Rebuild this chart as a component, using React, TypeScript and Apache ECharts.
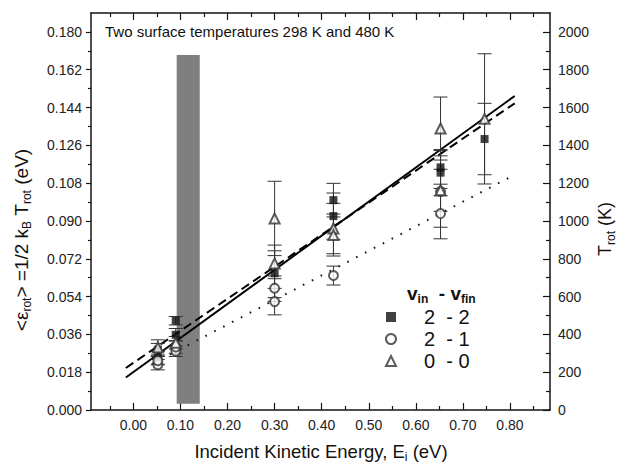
import React, { useEffect, useRef } from "react";
import * as echarts from "echarts";

// ---- axis ticks ----
const X_MAJOR = [0, 0.1, 0.2, 0.3, 0.4, 0.5, 0.6, 0.7, 0.8];
const X_MINOR = [-0.05, 0.05, 0.15, 0.25, 0.35, 0.45, 0.55, 0.65, 0.75, 0.85];
const Y_MAJOR = [0, 0.018, 0.036, 0.054, 0.072, 0.09, 0.108, 0.126, 0.144, 0.162, 0.18];
const Y_MINOR = [0.009, 0.027, 0.045, 0.063, 0.081, 0.099, 0.117, 0.135, 0.153, 0.171];
const K_MAJOR = [0, 200, 400, 600, 800, 1000, 1200, 1400, 1600, 1800, 2000];
const K_MINOR = [100, 300, 500, 700, 900, 1100, 1300, 1500, 1700, 1900];
const X_MIN = -0.09;
const X_MAX = 0.885;
const Y_MAX = 0.189;
const K_MAX = 2100;

// ---- data: v 2-2 (filled squares) ----
const E_22 = [0.052, 0.052, 0.09, 0.09, 0.3, 0.425, 0.425, 0.6525, 0.6525, 0.746];
const EPS_22 = [0.0287, 0.0248, 0.0425, 0.0358, 0.0651, 0.0999, 0.0923, 0.1155, 0.113, 0.129];
const ERR_22 = [0.003, 0.003, 0.002, 0.003, 0.0134, 0.008, 0.011, 0.008, 0.011, 0.017];

// ---- data: v 2-1 (open circles) ----
const E_21 = [0.052, 0.052, 0.09, 0.09, 0.3, 0.3, 0.425, 0.6525, 0.6525];
const EPS_21 = [0.0216, 0.0235, 0.028, 0.03, 0.058, 0.0516, 0.064, 0.0935, 0.104];
const ERR_21 = [0.0025, 0.002, 0.0025, 0.003, 0.0045, 0.0063, 0.0045, 0.012, 0.017];

// ---- data: v 0-0 (open triangles) ----
const E_00 = [0.052, 0.09, 0.3, 0.3, 0.425, 0.425, 0.6525, 0.6525, 0.746];
const EPS_00 = [0.0298, 0.032, 0.0912, 0.0698, 0.0864, 0.0833, 0.134, 0.1046, 0.1386];
const ERR_00 = [0.0036, 0.003, 0.0177, 0.006, 0.012, 0.01, 0.015, 0.01, 0.031];

// ---- fit lines ----
const SOLID_X = [-0.016, 0.81];
const SOLID_Y = [0.0155, 0.1495];
const DASH_X = [-0.016, 0.81];
const DASH_Y = [0.02, 0.146];
const DOT_X = [0.04, 0.81];
const DOT_Y = [0.022, 0.112];

// ---- shaded band [x0, y0, x1, y1] ----
const BAND = [0.092, 0.003, 0.141, 0.169];

const SERIES_NAMES = ["2  - 2", "2  - 1", "0  - 0"];
const TITLE = "Two surface temperatures 298 K and 480 K";

const FONT = "'Liberation Sans', Arial, Helvetica, sans-serif";
const INK = "#151515";

function pts(xs: number[], ys: number[]) {
  return xs.map((x, i) => [x, ys[i]]);
}
function errs(xs: number[], ys: number[], es: number[]) {
  return xs.map((x, i) => [x, ys[i] - es[i], ys[i] + es[i]]);
}

function errorBarSeries(data: number[][]) {
  return {
    type: "custom",
    xAxisIndex: 0,
    yAxisIndex: 0,
    z: 3,
    silent: true,
    data,
    encode: { x: 0, y: [1, 2] },
    renderItem: (_p: any, api: any) => {
      const x = api.value(0);
      const lo = api.coord([x, api.value(1)]);
      const hi = api.coord([x, api.value(2)]);
      const w = 7;
      const st = { stroke: "#333", lineWidth: 1 };
      return {
        type: "group",
        children: [
          { type: "line", shape: { x1: lo[0], y1: lo[1], x2: hi[0], y2: hi[1] }, style: st },
          { type: "line", shape: { x1: lo[0] - w, y1: lo[1], x2: lo[0] + w, y2: lo[1] }, style: st },
          { type: "line", shape: { x1: hi[0] - w, y1: hi[1], x2: hi[0] + w, y2: hi[1] }, style: st },
        ],
      };
    },
  };
}

function axis(showLine: boolean, extra: any) {
  return {
    type: "value",
    splitLine: { show: false },
    axisLine: { show: showLine, onZero: false, lineStyle: { color: INK, width: 1.5 } },
    ...extra,
  };
}

export default function App() {
  const ref = useRef<HTMLDivElement>(null);

  useEffect(() => {
    if (!ref.current) return;
    const chart = echarts.init(ref.current, null, { renderer: "svg" });

    const tickStyle = { color: INK, width: 1.2 };
    const labelStyle = { fontFamily: FONT, fontSize: 14, color: "#222" };

    const xMajor = (pos: string, labels: boolean) =>
      axis(true, {
        position: pos,
        min: X_MIN,
        max: X_MAX,
        axisTick: { show: true, inside: true, length: 7, customValues: X_MAJOR, lineStyle: tickStyle },
        axisLabel: labels
          ? { show: true, margin: 8, customValues: X_MAJOR, formatter: (v: number) => v.toFixed(2), ...labelStyle }
          : { show: false },
      });
    const xMinor = (pos: string) =>
      axis(false, {
        position: pos,
        min: X_MIN,
        max: X_MAX,
        axisTick: { show: true, inside: true, length: 4, customValues: X_MINOR, lineStyle: tickStyle },
        axisLabel: { show: false },
      });

    const sub = { fontFamily: FONT, fontSize: 12, fill: "#111", verticalAlign: "bottom", padding: [11, 0, 0, 0] };

    const option: any = {
      animation: false,
      backgroundColor: "#ffffff",
      grid: { left: 91, right: 76, top: 13, bottom: 54, containLabel: false, outerBoundsMode: "none" },
      xAxis: [xMajor("bottom", true), xMinor("bottom"), xMajor("top", false), xMinor("top")],
      yAxis: [
        axis(true, {
          position: "left",
          min: 0,
          max: Y_MAX,
          axisTick: { show: true, inside: false, length: 5, customValues: Y_MAJOR, lineStyle: tickStyle },
          axisLabel: { show: true, margin: 9, customValues: Y_MAJOR, formatter: (v: number) => v.toFixed(3), ...labelStyle },
        }),
        axis(false, {
          position: "left",
          min: 0,
          max: Y_MAX,
          axisTick: { show: true, inside: false, length: 3, customValues: Y_MINOR, lineStyle: tickStyle },
          axisLabel: { show: false },
        }),
        axis(true, {
          position: "right",
          min: 0,
          max: K_MAX,
          axisTick: { show: true, inside: true, length: 7, customValues: K_MAJOR, lineStyle: tickStyle },
          axisLabel: { show: true, margin: 8, customValues: K_MAJOR, formatter: (v: number) => String(v), ...labelStyle },
        }),
        axis(false, {
          position: "right",
          min: 0,
          max: K_MAX,
          axisTick: { show: true, inside: true, length: 4, customValues: K_MINOR, lineStyle: tickStyle },
          axisLabel: { show: false },
        }),
      ],
      legend: {
        data: SERIES_NAMES,
        orient: "vertical",
        left: 380,
        top: 302,
        itemWidth: 10,
        itemHeight: 10,
        itemGap: 2,
        selectedMode: false,
        textStyle: { fontFamily: FONT, fontSize: 20, lineHeight: 20, color: "#111", padding: [0, 0, 0, 23] },
      },
      graphic: [
        {
          type: "text",
          left: 105,
          top: 24,
          z: 10,
          style: { text: TITLE, fontFamily: FONT, fontSize: 15, fill: "#111" },
        },
        {
          type: "text",
          x: 407,
          y: 293,
          style: {
            text: "{b|v}{s|in}{b|  - v}{s|fin}",
            verticalAlign: "middle",
            rich: {
              b: { fontFamily: FONT, fontSize: 19, fontWeight: "bold", fill: "#111" },
              s: { ...sub, fontWeight: "bold" },
            },
          },
        },
        {
          type: "text",
          x: 21,
          y: 240,
          rotation: Math.PI / 2,
          style: {
            text: "{a|<ε}{s|rot}{a|> =1/2 k}{s|B}{a| T}{s|rot}{a| (eV)}",
            align: "center",
            verticalAlign: "middle",
            rich: {
              a: { fontFamily: FONT, fontSize: 19, fill: "#111" },
              s: sub,
            },
          },
        },
        {
          type: "text",
          x: 605,
          y: 229,
          rotation: Math.PI / 2,
          style: {
            text: "{a|T}{s|rot}{a| (K)}",
            align: "center",
            verticalAlign: "middle",
            rich: {
              a: { fontFamily: FONT, fontSize: 18, fill: "#111" },
              s: sub,
            },
          },
        },
        {
          type: "text",
          x: 321,
          y: 451,
          style: {
            text: "{a|Incident Kinetic Energy, E}{s|i}{a| (eV)}",
            align: "center",
            verticalAlign: "middle",
            rich: {
              a: { fontFamily: FONT, fontSize: 18.5, fill: "#111" },
              s: sub,
            },
          },
        },
      ],
      series: [
        {
          type: "custom",
          name: "band",
          z: 1,
          silent: true,
          data: [BAND],
          encode: { x: [0, 2], y: [1, 3] },
          renderItem: (_p: any, api: any) => {
            const a = api.coord([api.value(0), api.value(3)]);
            const b = api.coord([api.value(2), api.value(1)]);
            return {
              type: "rect",
              shape: { x: a[0], y: a[1], width: b[0] - a[0], height: b[1] - a[1] },
              style: { fill: "#7f7f7f" },
            };
          },
        },
        {
          type: "line",
          name: "fit solid",
          z: 2,
          data: pts(SOLID_X, SOLID_Y),
          symbol: "none",
          silent: true,
          lineStyle: { color: "#000", width: 2 },
        },
        {
          type: "line",
          name: "fit dashed",
          z: 2,
          data: pts(DASH_X, DASH_Y),
          symbol: "none",
          silent: true,
          lineStyle: { color: "#000", width: 2, type: [9, 5] },
        },
        {
          type: "line",
          name: "fit dotted",
          z: 2,
          data: pts(DOT_X, DOT_Y),
          symbol: "none",
          silent: true,
          lineStyle: { color: "#111", width: 2, type: [1.6, 8.4] },
        },
        errorBarSeries(errs(E_22, EPS_22, ERR_22)),
        errorBarSeries(errs(E_21, EPS_21, ERR_21)),
        errorBarSeries(errs(E_00, EPS_00, ERR_00)),
        {
          type: "scatter",
          name: SERIES_NAMES[0],
          z: 5,
          data: pts(E_22, EPS_22),
          symbol: "rect",
          symbolSize: 8,
          itemStyle: { color: "#111" },
        },
        {
          type: "scatter",
          name: SERIES_NAMES[1],
          z: 5,
          data: pts(E_21, EPS_21),
          symbol: "emptyCircle",
          symbolSize: 9,
          itemStyle: { color: "#333", borderWidth: 1 },
        },
        {
          type: "scatter",
          name: SERIES_NAMES[2],
          z: 5,
          data: pts(E_00, EPS_00),
          symbol: "emptyTriangle",
          symbolSize: 10,
          itemStyle: { color: "#333", borderWidth: 1 },
        },
      ],
    };

    chart.setOption(option);
    return () => chart.dispose();
  }, []);

  return (
    <div
      ref={ref}
      style={{ position: "fixed", left: 0, top: 0, width: 626, height: 464, background: "#fff" }}
    />
  );
}
